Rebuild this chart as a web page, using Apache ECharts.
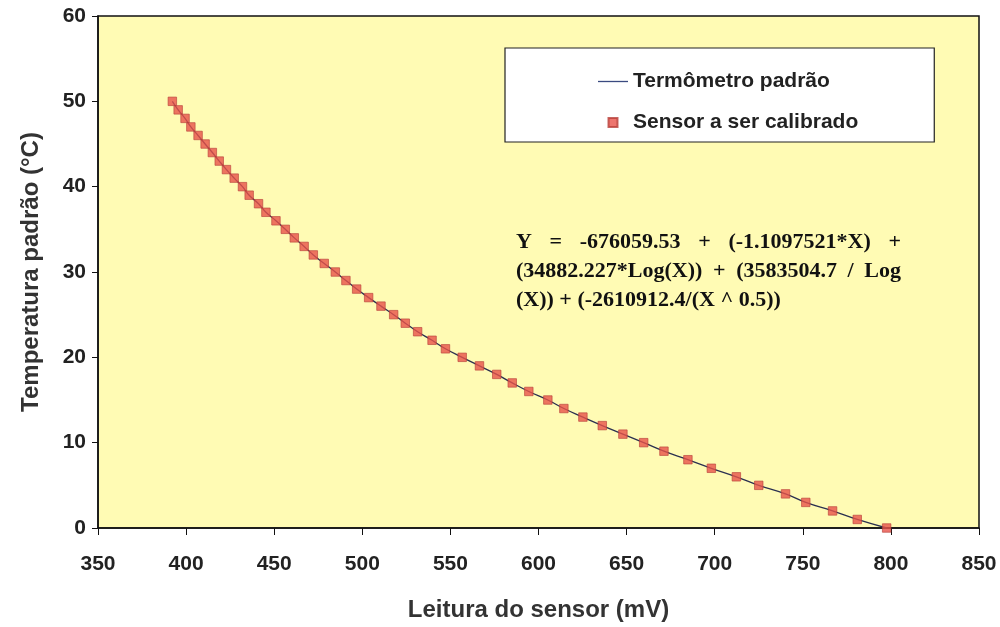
<!DOCTYPE html>
<html>
<head>
<meta charset="utf-8">
<script src="https://cdn.jsdelivr.net/npm/echarts@6/dist/echarts.min.js"></script>
<style>
  html, body { margin: 0; padding: 0; background: #fff; }
  #chart { width: 1000px; height: 627px; }
</style>
</head>
<body>
<div id="chart"></div>
<script>
// leituras do sensor (mV), de 50 °C até 0 °C
const sensorMv = [
  392.2, 395.5, 399.4, 402.7, 406.8, 410.8, 414.9, 418.8, 422.9, 427.3,
  432.0, 435.8, 441.1, 445.3, 451.0, 456.3, 461.4, 467.0, 472.2, 478.4,
  484.7, 490.7, 496.8, 503.6, 510.6, 517.8, 524.4, 531.4, 539.6, 547.2,
  556.7, 566.5, 576.3, 585.1, 594.5, 605.3, 614.4, 625.2, 636.2, 647.9,
  659.7, 671.2, 684.8, 698.1, 712.3, 725.0, 740.2, 751.7, 766.9, 780.9,
  797.6
];
const tempPadrao = [
  50, 49, 48, 47, 46, 45, 44, 43, 42, 41,
  40, 39, 38, 37, 36, 35, 34, 33, 32, 31,
  30, 29, 28, 27, 26, 25, 24, 23, 22, 21,
  20, 19, 18, 17, 16, 15, 14, 13, 12, 11,
  10, 9, 8, 7, 6, 5, 4, 3, 2, 1,
  0
];
const seriesNames = ["Termômetro padrão", "Sensor a ser calibrado"];
// linhas da equação (as duas primeiras são justificadas)
const eqLines = [
  ["Y", "=", "-676059.53", "+", "(-1.1097521*X)", "+"],
  ["(34882.227*Log(X))", "+", "(3583504.7", "/", "Log"],
  ["(X)) + (-2610912.4/(X ^ 0.5))"],
];

const pontos = sensorMv.map((x, i) => [x, tempPadrao[i]]);

const chart = echarts.init(document.getElementById("chart"));

const axisFont = {
  fontFamily: "Liberation Sans, Arial, sans-serif",
  fontWeight: "bold",
  fontSize: 21,
  color: "#222",
};
const eqFont = {
  fontFamily: "Liberation Serif, Times New Roman, serif",
  fontWeight: "bold",
  fontSize: 22,
  fill: "#111",
};

// mede o texto para justificar as linhas
const ctx = document.createElement("canvas").getContext("2d");
ctx.font = "bold 22px 'Liberation Serif', 'Times New Roman', serif";

function eqGraphics(x0, x1, top0, lineH) {
  const out = [];
  eqLines.forEach((tokens, li) => {
    const y = top0 + li * lineH;
    const widths = tokens.map((t) => ctx.measureText(t).width);
    const total = widths.reduce((a, b) => a + b, 0);
    const justify = li < eqLines.length - 1 && tokens.length > 1;
    const gap = justify ? (x1 - x0 - total) / (tokens.length - 1) : 0;
    let x = x0;
    tokens.forEach((t, i) => {
      out.push({
        type: "text",
        x: x,
        y: y,
        z: 10,
        style: Object.assign({ text: t, textVerticalAlign: "middle" }, eqFont),
      });
      x += widths[i] + gap;
    });
  });
  return out;
}

const option = {
  backgroundColor: "#fff",
  animation: false,
  grid: {
    left: 98,
    right: 21,
    top: 16,
    bottom: 99,
    show: true,
    backgroundColor: "#FFFBB4",
    borderColor: "#111",
    borderWidth: 1.5,
  },
  xAxis: {
    type: "value",
    min: 350,
    max: 850,
    interval: 50,
    name: "Leitura do sensor (mV)",
    nameLocation: "middle",
    nameGap: 70,
    nameTextStyle: Object.assign({}, axisFont, { fontSize: 24, color: "#333" }),
    axisLine: { lineStyle: { color: "#111", width: 1.5 } },
    axisTick: { show: true, length: 7, lineStyle: { color: "#111" } },
    axisLabel: Object.assign({ margin: 26 }, axisFont),
    splitLine: { show: false },
  },
  yAxis: {
    type: "value",
    min: 0,
    max: 60,
    interval: 10,
    name: "Temperatura padrão (°C)",
    nameLocation: "middle",
    nameGap: 55,
    nameTextStyle: Object.assign({}, axisFont, { fontSize: 24, color: "#333" }),
    axisLine: { show: true, lineStyle: { color: "#111", width: 1.5 } },
    axisTick: { show: true, length: 6, lineStyle: { color: "#111" } },
    axisLabel: Object.assign({ margin: 12 }, axisFont),
    splitLine: { show: false },
  },
  legend: {
    orient: "vertical",
    left: 505,
    top: 48,
    backgroundColor: "#fff",
    borderColor: "#222",
    borderWidth: 1.2,
    borderRadius: 0,
    padding: [23, 76, 9, 93],
    itemWidth: 30,
    itemHeight: 9,
    itemGap: 20,
    textStyle: {
      fontFamily: "Liberation Sans, Arial, sans-serif",
      fontWeight: "bold",
      fontSize: 21,
      color: "#222",
    },
    data: [
      { name: seriesNames[0], icon: "path://M0,0L30,0L30,1.3L0,1.3Z" },
      { name: seriesNames[1], icon: "path://M0,0L10,0L10,10L0,10Z" },
    ],
  },
  series: [
    {
      name: seriesNames[0],
      type: "line",
      data: pontos,
      smooth: true,
      symbol: "none",
      lineStyle: { color: "#2b3050", width: 1.3 },
      itemStyle: { color: "#3a4a80" },
      z: 2,
    },
    {
      name: seriesNames[1],
      type: "scatter",
      data: pontos,
      symbol: "rect",
      symbolSize: 8.5,
      itemStyle: { color: "#E8524A", borderColor: "#B8403A", borderWidth: 0.8 },
      z: 3,
    },
  ],
  graphic: eqGraphics(516, 901, 242, 29),
};

chart.setOption(option);
</script>
</body>
</html>
